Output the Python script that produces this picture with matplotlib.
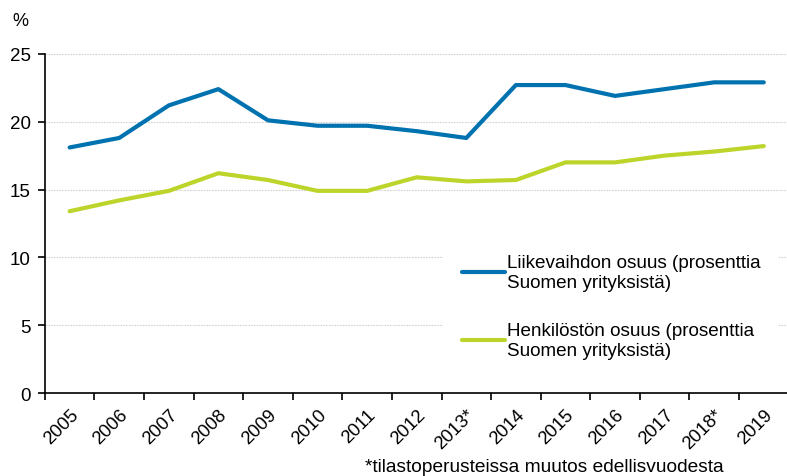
import numpy as np
import matplotlib
matplotlib.use("Agg")
import matplotlib.pyplot as plt

years = ["2005", "2006", "2007", "2008", "2009", "2010", "2011", "2012",
         "2013*", "2014", "2015", "2016", "2017", "2018*", "2019"]
turnover = [18.1, 18.8, 21.2, 22.4, 20.1, 19.7, 19.7, 19.3,
            18.8, 22.7, 22.7, 21.9, 22.4, 22.9, 22.9]
personnel = [13.4, 14.2, 14.9, 16.2, 15.7, 14.9, 14.9, 15.9,
             15.6, 15.7, 17.0, 17.0, 17.5, 17.8, 18.2]
labels = ["Liikevaihdon osuus (prosenttia\nSuomen yrityksistä)",
          "Henkilöstön osuus (prosenttia\nSuomen yrityksistä)"]

plt.rcParams["font.family"] = ["Liberation Sans", "DejaVu Sans"]

fig = plt.figure(figsize=(7.87, 4.77), dpi=100)
ax = fig.add_axes([0.057, 0.174, 0.945, 0.711])

x = np.arange(len(years))
ax.plot(x, turnover, color="#0072b0", lw=3, label=labels[0], solid_capstyle="round")
ax.plot(x, personnel, color="#bdd52a", lw=3, label=labels[1], solid_capstyle="round")

ax.set_xlim(-0.5, len(years) - 0.5)
ax.set_ylim(0, 25)
ax.set_yticks([0, 5, 10, 15, 20, 25])
ax.yaxis.grid(True, color="#d2d2d2", linestyle=(0, (1.5, 1)), lw=0.8)
ax.set_axisbelow(True)

ax.set_xticks(np.arange(-0.5, len(years)), minor=False)
ax.set_xticklabels([])
ax.set_xticks(x, minor=True)
ax.set_xticklabels(years, minor=True, rotation=45, ha="right", va="top",
                   rotation_mode="anchor", fontsize=13.3)
ax.tick_params(axis="x", which="minor", length=0, pad=9)
ax.tick_params(axis="x", which="major", length=5, width=1.2)
ax.tick_params(axis="y", length=5, width=1.2, labelsize=13.5, pad=5)

for s in ["top", "right"]:
    ax.spines[s].set_visible(False)
ax.spines["left"].set_linewidth(1.2)
ax.spines["bottom"].set_linewidth(1.2)

leg = ax.legend(loc="upper left", bbox_to_anchor=(0.535, 0.465), frameon=True,
                edgecolor="none", facecolor="white", framealpha=1, fancybox=False,
                fontsize=13.6, handlelength=2.3, handletextpad=0.1,
                labelspacing=1.65, borderpad=1.0, borderaxespad=0)

fig.text(0.026, 0.955, "%", fontsize=13, ha="center", va="center")
fig.text(0.92, 0.02, "*tilastoperusteissa muutos edellisvuodesta",
         fontsize=13.8, ha="right", va="center")

fig.savefig("out.png", dpi=100)
